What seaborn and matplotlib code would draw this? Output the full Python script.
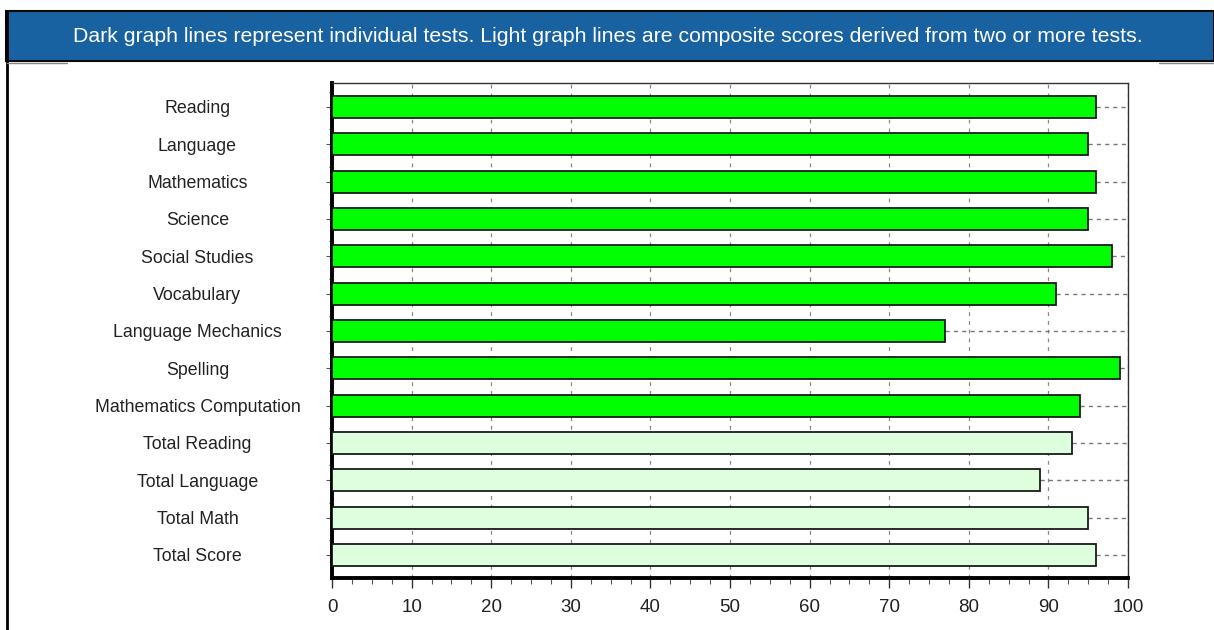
import pandas as pd
import seaborn as sns
import matplotlib.pyplot as plt
import numpy as np
from matplotlib.patches import Rectangle
from matplotlib.lines import Line2D

# Data
tests = ['Reading', 'Language', 'Mathematics', 'Science', 'Social Studies',
         'Vocabulary', 'Language Mechanics', 'Spelling', 'Mathematics Computation',
         'Total Reading', 'Total Language', 'Total Math', 'Total Score']
scores = [96, 95, 96, 95, 98, 91, 77, 99, 94, 93, 89, 95, 96]
kind = ['individual'] * 9 + ['composite'] * 4

df = pd.DataFrame({'test': tests, 'score': scores, 'kind': kind})

sns.set_style('white')
plt.rcParams['font.family'] = ['Liberation Sans', 'DejaVu Sans']

fig = plt.figure(figsize=(12.14, 6.3), dpi=100)
W, H = 1214, 630

# header band
fig.patches.append(Rectangle((6 / W, 1 - 61 / H), 1 - 6 / W, 50 / H, transform=fig.transFigure,
                             facecolor='#1862a2', edgecolor='#0a0a0a', linewidth=1.5))
fig.text(608 / W, 1 - 36 / H,
         'Dark graph lines represent individual tests. Light graph lines are composite scores derived from two or more tests.',
         color='white', fontsize=15.3, ha='center', va='center')
# left frame line and thin grey lines under the header
fig.lines.append(Line2D([6.5 / W, 6.5 / W], [0, 1 - 11 / H], transform=fig.transFigure, color='black', lw=2))
fig.lines.append(Line2D([7 / W, 67 / W], [1 - 62.5 / H] * 2, transform=fig.transFigure, color='#888888', lw=1))
fig.lines.append(Line2D([1159 / W, 1], [1 - 62.5 / H] * 2, transform=fig.transFigure, color='#888888', lw=1))

ax = fig.add_axes([332 / W, 1 - 578 / H, (1128 - 332) / W, (578 - 83) / H])

palette = {'individual': '#00ff00', 'composite': '#ddffdd'}
sns.barplot(data=df, x='score', y='test', hue='kind', palette=palette, dodge=False,
            orient='h', width=0.59, edgecolor='#1a1a1a', linewidth=1.3, legend=False,
            saturation=1, zorder=3, ax=ax)

# dashed lines from bar ends to the right edge
for i, s in enumerate(scores):
    ax.plot([s, 100], [i, i], color='#777777', lw=1, ls=(0, (3, 3)), zorder=2)

ax.set_xlim(0, 100)
ax.set_ylim(len(tests) - 1 + 0.62, -0.64)
ax.set_xticks(np.arange(0, 101, 10))
ax.set_xticks(np.arange(0, 100.1, 2.5), minor=True)
ax.set_yticks(np.arange(len(tests)) - 0.4, minor=True)
ax.grid(axis='x', color='#888888', ls=(0, (3, 4)), lw=0.9, zorder=1)
ax.set_xlabel('')
ax.set_ylabel('')

ax.tick_params(axis='x', which='major', direction='out', length=7, width=1, color='#333333',
               labelsize=13.5, labelcolor='#222222', pad=8, bottom=True)
ax.tick_params(axis='x', which='minor', direction='out', length=4, width=0.8, color='#555555', bottom=True)
ax.tick_params(axis='y', which='major', direction='out', length=4, width=0.8, color='#555555',
               labelsize=12.8, labelcolor='#222222', left=True)
ax.tick_params(axis='y', which='minor', direction='out', length=2, width=0.8, color='#555555', left=True)
for lab in ax.get_yticklabels():
    lab.set_horizontalalignment('center')
    lab.set_x(-0.156)

for side in ['top', 'right']:
    ax.spines[side].set_linewidth(1)
    ax.spines[side].set_color('#333333')
for side in ['left', 'bottom']:
    ax.spines[side].set_linewidth(2.8)
    ax.spines[side].set_color('black')

fig.savefig('out.png', dpi=100)
